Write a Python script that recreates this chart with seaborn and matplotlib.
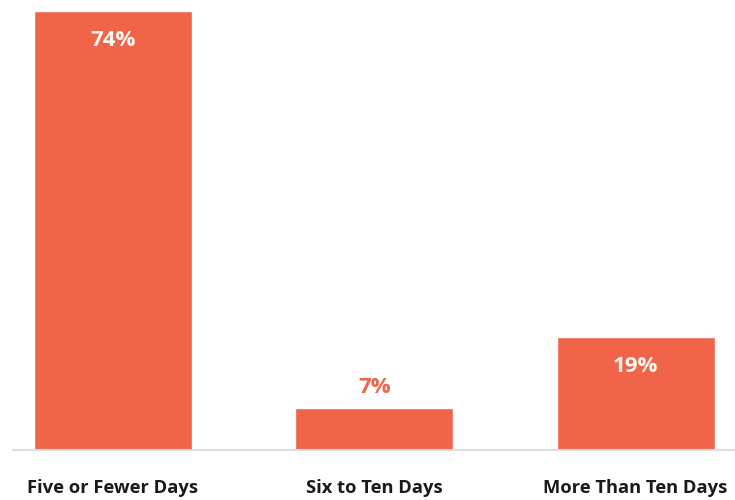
import matplotlib
matplotlib.use('Agg')
import matplotlib.pyplot as plt
import seaborn as sns
import pandas as pd

categories = ['Five or Fewer Days', 'Six to Ten Days', 'More Than Ten Days']
shares = [74, 7, 19]
labels = ['74%', '7%', '19%']

bar_color = '#F0644A'

sns.set_style('white')
plt.rcParams['font.family'] = ['Open Sans', 'DejaVu Sans']

df = pd.DataFrame({'category': categories, 'share': shares})

fig = plt.figure(figsize=(7.35, 5), dpi=100)
ax = fig.add_axes([13 / 735, 50 / 500, 722 / 735, 450 / 500])

sns.barplot(data=df, x='category', y='share', color=bar_color, saturation=1,
            width=0.604, ax=ax)

ax.set_xlim(-0.382, 2.38)
ax.set_ylim(0, 75.9)

for i, (v, lab) in enumerate(zip(shares, labels)):
    if v > 10:
        ax.annotate(lab, (i, v), xytext=(0, -29), textcoords='offset pixels',
                    ha='center', va='center', color='#FFF8F2',
                    fontsize=16, fontweight='bold')
    else:
        ax.annotate(lab, (i, v), xytext=(0, 21), textcoords='offset pixels',
                    ha='center', va='center', color=bar_color,
                    fontsize=16, fontweight='bold')

ax.set_xlabel('')
ax.set_ylabel('')
ax.set_yticks([])
ax.tick_params(axis='x', length=0, pad=21, labelsize=13.2, labelcolor='#1a1a1a')
for t in ax.get_xticklabels():
    t.set_fontweight('bold')

for side in ['top', 'left', 'right']:
    ax.spines[side].set_visible(False)
ax.spines['bottom'].set_color('#dddddd')
ax.spines['bottom'].set_linewidth(1.5)

fig.savefig('out.png', dpi=100)
